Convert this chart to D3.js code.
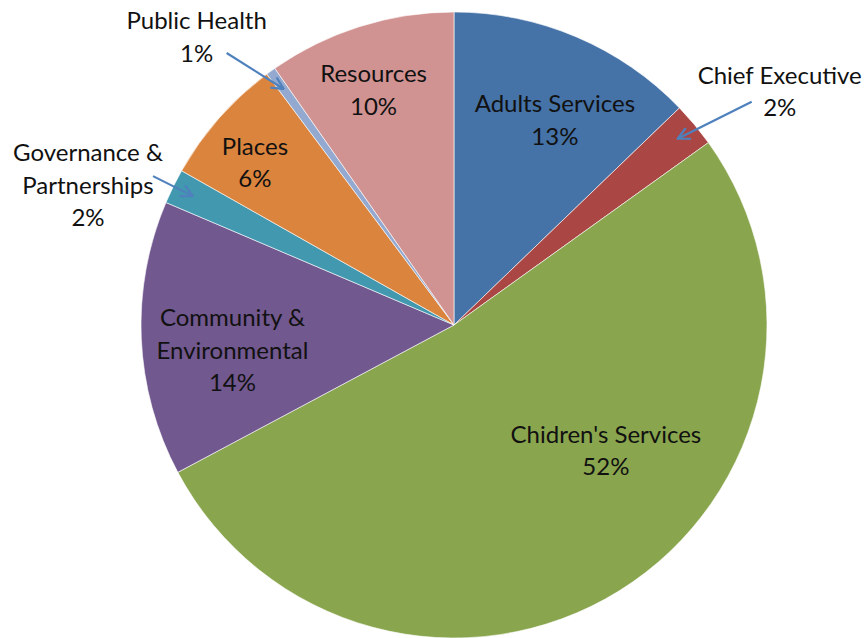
<!DOCTYPE html>
<html>
<head>
<meta charset="utf-8">
<script src="https://cdn.jsdelivr.net/npm/d3@7"></script>
<style>
  html, body { margin: 0; padding: 0; background: #fff; }
  svg text { font-family: Lato, "Noto Sans", sans-serif; font-size: 24px; fill: #111; }
</style>
</head>
<body>
<svg id="chart" width="866" height="638"></svg>
<script>
// departments, clockwise from 12 o'clock
const departments = ['Adults Services', 'Chief Executive', "Chidren's Services", 'Community & Environmental',
  'Governance & Partnerships', 'Places', 'Public Health', 'Resources']
const shares = [12.8, 2.3, 52.1, 14.2, 1.8, 6.6, 0.5, 9.7]
const pctLabels = ['13%', '2%', '52%', '14%', '2%', '6%', '1%', '10%']
const labelLines = [['Adults Services'], ['Chief Executive'], ["Chidren's Services"], ['Community &', 'Environmental'],
  ['Governance &', 'Partnerships'], ['Places'], ['Public Health'], ['Resources']]
const colors = ['#4572A7', '#AA4643', '#89A54E', '#71588F', '#4198AF', '#DB843D', '#93A9CF', '#D19392']

const width = 866, height = 638
const cx = 454, cy = 325, radius = 313
const lineH = 32.5

// label placement: inside labels nudged from the centroid at 0.75R,
// outside labels (with arrows) nudged from a point at 0.93R
const inside = {0: [9, 11], 2: [28, -74], 3: [13, 15], 5: [-23, -7], 7: [-10, -11]}
const outside = {
  1: {text: [102, -47], tail: [74, -37]},
  4: {text: [-105, -11], tail: [-40, -20]},
  6: {text: [-87, -52], tail: [-57, -36]}
}

const data = departments.map((d, i) => ({name: d, value: shares[i], pct: pctLabels[i], lines: labelLines[i], color: colors[i]}))

const svg = d3.select('#chart')

svg.append('defs').append('marker')
  .attr('id', 'arrow')
  .attr('viewBox', '0 0 14 14')
  .attr('refX', 13).attr('refY', 7)
  .attr('markerWidth', 14).attr('markerHeight', 14)
  .attr('markerUnits', 'userSpaceOnUse')
  .attr('orient', 'auto')
  .append('path')
  .attr('d', 'M1,1 L13,7 L1,13')
  .style('fill', 'none')
  .style('stroke', '#4F81BD')
  .style('stroke-width', 2.2)

const pie = d3.pie().sort(null).value(d => d.value)
const arc = d3.arc().innerRadius(0).outerRadius(radius)
const labelArc = d3.arc().innerRadius(radius * 0.75).outerRadius(radius * 0.75)
const tipArc = d3.arc().innerRadius(radius * 0.93).outerRadius(radius * 0.93)

const g = svg.append('g').attr('transform', `translate(${cx},${cy})`)

const arcs = pie(data)

g.selectAll('path.slice')
  .data(arcs)
  .enter()
  .append('path')
  .attr('class', 'slice')
  .attr('d', arc)
  .style('fill', d => d.data.color)
  .style('stroke', '#fff')
  .style('stroke-width', 0.6)

function drawLabel(x, y, lines) {
  const t = g.append('text').attr('text-anchor', 'middle')
  const top = y - (lines.length - 1) * lineH / 2
  lines.forEach((l, k) => {
    t.append('tspan').attr('x', x).attr('y', top + k * lineH).attr('dy', '0.35em').text(l)
  })
}

arcs.forEach((d, i) => {
  const lines = d.data.lines.concat([d.data.pct])
  if (inside[i]) {
    const [x, y] = labelArc.centroid(d)
    drawLabel(x + inside[i][0], y + inside[i][1], lines)
  } else {
    const [tx, ty] = tipArc.centroid(d)
    const o = outside[i]
    g.append('line')
      .attr('x1', tx + o.tail[0]).attr('y1', ty + o.tail[1])
      .attr('x2', tx).attr('y2', ty)
      .style('stroke', '#4F81BD')
      .style('stroke-width', 2.2)
      .attr('marker-end', 'url(#arrow)')
    drawLabel(tx + o.text[0], ty + o.text[1], lines)
  }
})
</script>
</body>
</html>
